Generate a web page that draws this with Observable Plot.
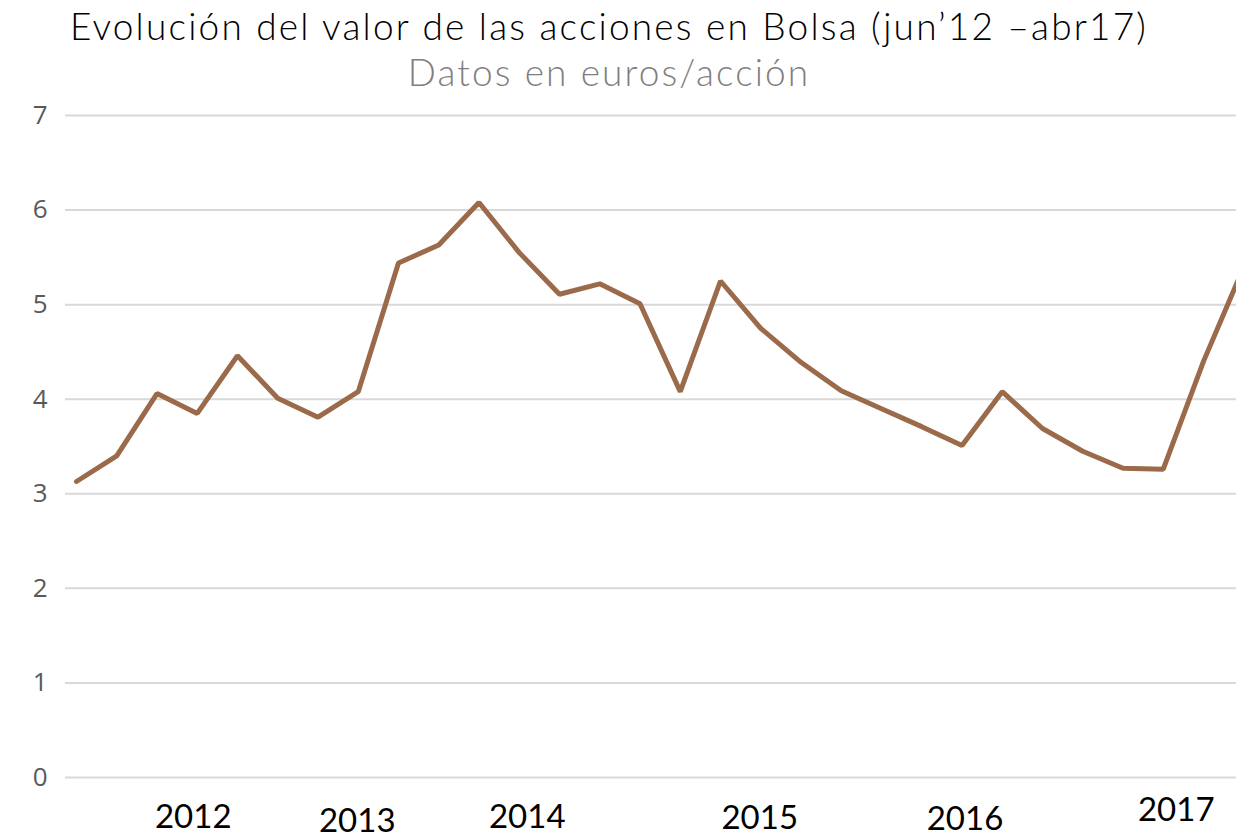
<!DOCTYPE html>
<html>
<head>
<meta charset="utf-8">
<script src="https://cdn.jsdelivr.net/npm/d3@7"></script>
<script src="https://cdn.jsdelivr.net/npm/@observablehq/plot@0.6"></script>
<style>
  html, body { margin: 0; padding: 0; background: #fff; }
  #wrap { position: relative; width: 1236px; height: 836px; overflow: hidden; }
  #title { position: absolute; left: 0; top: 4px; width: 1218px; text-align: center;
    font-family: Lato, sans-serif; font-weight: 300; font-size: 37px; line-height: 44px; letter-spacing: 2.2px; color: #000; white-space: nowrap; }
  #subtitle { position: absolute; left: 0; top: 50px; width: 1218px; text-align: center;
    font-family: Lato, sans-serif; font-weight: 300; font-size: 37px; line-height: 44px; letter-spacing: 2.1px; color: #7f7f7f; white-space: nowrap; }
  #chart { position: absolute; left: 0; top: 100px; }
</style>
</head>
<body>
<div id="wrap">
  <div id="title">Evolución del valor de las acciones en Bolsa (jun’12 –abr17)</div>
  <div id="subtitle">Datos en euros/acción</div>
  <div id="chart"></div>
</div>
<script>
// Periods (bimonthly, jun'12 – abr'17)
const periods = ["jun'12","ago'12","oct'12","dic'12","feb'13","abr'13","jun'13","ago'13","oct'13","dic'13",
  "feb'14","abr'14","jun'14","ago'14","oct'14","dic'14","feb'15","abr'15","jun'15","ago'15",
  "oct'15","dic'15","feb'16","abr'16","jun'16","ago'16","oct'16","dic'16","feb'17","abr'17"];
// Share price, euros/acción
const values = [3.13, 3.40, 4.06, 3.85, 4.46, 4.01, 3.81, 4.08, 5.44, 5.63,
  6.08, 5.55, 5.11, 5.22, 5.01, 4.08, 5.25, 4.75, 4.39, 4.09,
  3.90, 3.71, 3.51, 4.08, 3.69, 3.45, 3.27, 3.26, 4.40, 5.40];
// Year labels and the period each sits under
const yearLabels = ["2012","2013","2014","2015","2016","2017"];
const yearPeriods = ["dic'12","ago'13","abr'14","abr'15","feb'16","dic'16"];
const yTicks = [0,1,2,3,4,5,6,7];

const data = periods.map((p, i) => ({i, p, v: values[i]}));
const idx = p => periods.indexOf(p);

// label style offsets (dx, dy) for each year label
const yearStyle = [[-4, 40], [-1, 44], [8, 40], [-1, 41], [3, 42], [13, 33]];

const yearMarks = yearLabels.map((lab, k) => Plot.text([lab], {
  x: () => idx(yearPeriods[k]), y: () => 0, text: d => d,
  dx: yearStyle[k][0], dy: yearStyle[k][1],
  fontSize: 33, fontFamily: "Lato, sans-serif", fontWeight: 400, fill: "#000", clip: false
}));

const chart = Plot.plot({
  width: 1236, height: 736,
  marginLeft: 65, marginRight: 0, marginTop: 15, marginBottom: 59,
  style: {fontFamily: "'Open Sans', sans-serif", background: "transparent", overflow: "visible"},
  x: {type: "linear", domain: [-0.273, 28.82], axis: null},
  y: {domain: [0, 7], axis: null},
  marks: [
    Plot.ruleY(yTicks, {stroke: "#d9d9d9", strokeWidth: 2}),
    Plot.axisY(yTicks, {tickSize: 0, tickPadding: 18, tickFormat: d3.format("d"), fontSize: 26, fill: "#595959", label: null}),
    Plot.line(data, {x: "i", y: "v", stroke: "#9a6a4a", strokeWidth: 5, strokeLinejoin: "miter", clip: true}),
    ...yearMarks
  ]
});
document.getElementById("chart").appendChild(chart);
</script>
</body>
</html>
